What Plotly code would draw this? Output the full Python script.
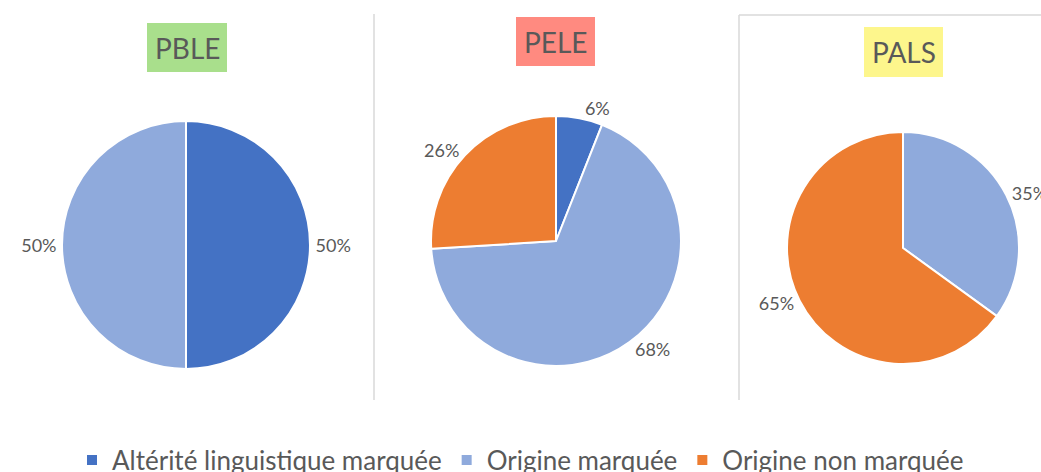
import plotly.graph_objects as go

W, H = 1041, 472

categories = ["Altérité linguistique marquée", "Origine marquée", "Origine non marquée"]
groups = ["PBLE", "PELE", "PALS"]
shares_pble = [50, 50, 0]
shares_pele = [6, 68, 26]
shares_pals = [0, 35, 65]

slice_colors = ["#4472c4", "#8faadc", "#ed7d31"]
title_fill = {"PBLE": "#a9df8c", "PELE": "#ff8a80", "PALS": "#fdf68c"}
text_gray = "#595959"
font_family = "Lato, 'Open Sans', sans-serif"

# pie placement in pixels: centre x, centre y, radius
pie_geom = {"PBLE": (186, 245, 124), "PELE": (556, 241, 125), "PALS": (903, 248, 116)}
# title box in pixels: x0, y0, x1, y1
title_box = {"PBLE": (147, 23, 227, 72), "PELE": (516, 17, 595, 66), "PALS": (864, 27, 943, 77)}


def px_x(v):
    return v / W


def px_y(v):
    return 1 - v / H


fig = go.Figure()
for name, vals in zip(groups, [shares_pble, shares_pele, shares_pals]):
    cx, cy, r = pie_geom[name]
    fig.add_trace(go.Pie(
        labels=categories,
        values=vals,
        text=[f"{v}%" if v > 0 else "" for v in vals],
        textinfo="text",
        textposition="outside",
        sort=False,
        direction="clockwise",
        rotation=0,
        marker=dict(colors=slice_colors, line=dict(color="white", width=2)),
        outsidetextfont=dict(size=18, color=text_gray, family=font_family),
        domain=dict(x=[px_x(cx - r), px_x(cx + r)], y=[px_y(cy + r), px_y(cy - r)]),
        hoverinfo="label+percent",
        name=name,
    ))

shapes = []
annotations = []
for name in groups:
    x0, y0, x1, y1 = title_box[name]
    shapes.append(dict(type="rect", xref="paper", yref="paper",
                       x0=px_x(x0), x1=px_x(x1), y0=px_y(y1), y1=px_y(y0),
                       fillcolor=title_fill[name], line=dict(width=0), layer="below"))
    annotations.append(dict(text=name, xref="paper", yref="paper",
                            x=px_x((x0 + x1) / 2), y=px_y((y0 + y1) / 2),
                            xanchor="center", yanchor="middle", showarrow=False,
                            font=dict(size=28, color=text_gray, family=font_family)))

# panel separators
line_style = dict(color="#d9d9d9", width=1.5)
shapes.append(dict(type="line", xref="paper", yref="paper",
                   x0=px_x(374), x1=px_x(374), y0=px_y(400), y1=px_y(14), line=line_style))
shapes.append(dict(type="line", xref="paper", yref="paper",
                   x0=px_x(739), x1=px_x(739), y0=px_y(400), y1=px_y(15), line=line_style))
shapes.append(dict(type="line", xref="paper", yref="paper",
                   x0=px_x(739), x1=1, y0=px_y(15), y1=px_y(15), line=line_style))

fig.update_layout(
    width=W, height=H,
    margin=dict(l=0, r=0, t=0, b=0, autoexpand=False),
    paper_bgcolor="white", plot_bgcolor="white",
    shapes=shapes, annotations=annotations,
    showlegend=True,
    legend=dict(orientation="h", x=0.5, xanchor="center", y=px_y(460), yanchor="middle",
                font=dict(size=26, color=text_gray, family=font_family),
                itemclick=False, itemdoubleclick=False),
)

fig.write_html("out.html")
